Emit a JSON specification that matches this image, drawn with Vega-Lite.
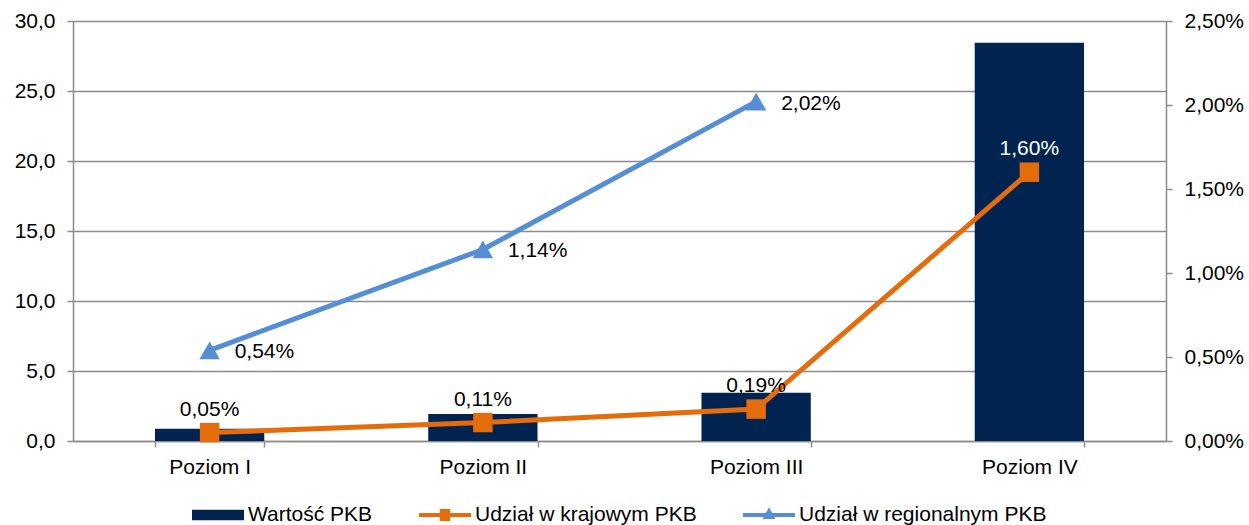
{
  "$schema": "https://vega.github.io/schema/vega-lite/v6.json",
  "width": 1093,
  "height": 420,
  "autosize": {"type": "none"},
  "padding": {"left": 73, "top": 21, "right": 83, "bottom": 84},
  "background": "white",
  "config": {
    "view": {"stroke": null},
    "locale": {"number": {"decimal": ",", "thousands": "\u00a0", "grouping": [3], "currency": ["", " zł"]}},
    "font": "Liberation Sans",
    "axis": {
      "labelFont": "Liberation Sans",
      "labelFontSize": 21,
      "labelColor": "#000000",
      "domainColor": "#8c8c8c",
      "domainWidth": 1.5,
      "tickColor": "#8c8c8c",
      "tickWidth": 1.5,
      "tickSize": 6,
      "gridColor": "#8c8c8c",
      "gridWidth": 1.5,
      "title": null
    },
    "legend": {
      "layout": {"bottom": {"anchor": "middle"}}
    },
    "text": {"font": "Liberation Sans", "fontSize": 21}
  },
  "data": {
    "values": [
      {"poziom": "Poziom I", "seria": "Wartość PKB", "wartosc": 0.88},
      {"poziom": "Poziom II", "seria": "Wartość PKB", "wartosc": 1.93},
      {"poziom": "Poziom III", "seria": "Wartość PKB", "wartosc": 3.45},
      {"poziom": "Poziom IV", "seria": "Wartość PKB", "wartosc": 28.45},
      {"poziom": "Poziom I", "seria": "Udział w krajowym PKB", "wartosc": 0.0005},
      {"poziom": "Poziom II", "seria": "Udział w krajowym PKB", "wartosc": 0.0011},
      {"poziom": "Poziom III", "seria": "Udział w krajowym PKB", "wartosc": 0.0019},
      {"poziom": "Poziom IV", "seria": "Udział w krajowym PKB", "wartosc": 0.016},
      {"poziom": "Poziom I", "seria": "Udział w regionalnym PKB", "wartosc": 0.0054},
      {"poziom": "Poziom II", "seria": "Udział w regionalnym PKB", "wartosc": 0.0114},
      {"poziom": "Poziom III", "seria": "Udział w regionalnym PKB", "wartosc": 0.0202}
    ]
  },
  "encoding": {
    "x": {
      "field": "poziom",
      "type": "nominal",
      "sort": ["Poziom I", "Poziom II", "Poziom III", "Poziom IV"],
      "scale": {"paddingInner": 0.6, "paddingOuter": 0.3},
      "axis": {"labelAngle": 0, "tickBand": "extent", "grid": false, "labelPadding": 9}
    }
  },
  "layer": [
    {
      "transform": [{"filter": {"field": "seria", "equal": "Wartość PKB"}}],
      "mark": {"type": "bar", "color": "#00244F"},
      "encoding": {
        "y": {
          "field": "wartosc",
          "type": "quantitative",
          "scale": {"domain": [0, 30], "nice": false},
          "axis": {"orient": "left", "values": [0, 5, 10, 15, 20, 25, 30], "format": ".1f", "grid": true, "labelPadding": 12}
        }
      }
    },
    {
      "encoding": {
        "y": {
          "field": "wartosc",
          "type": "quantitative",
          "scale": {"domain": [0, 0.025], "nice": false},
          "axis": {"orient": "right", "values": [0, 0.005, 0.01, 0.015, 0.02, 0.025], "format": ".2%", "grid": false, "labelPadding": 12}
        }
      },
      "layer": [
        {
          "transform": [{"filter": {"field": "seria", "equal": "Udział w krajowym PKB"}}],
          "mark": {"type": "line", "color": "#E46C0A", "strokeWidth": 5, "point": {"shape": "square", "filled": true, "size": 380, "color": "#E46C0A", "opacity": 1}}
        },
        {
          "transform": [{"filter": {"field": "seria", "equal": "Udział w regionalnym PKB"}}],
          "mark": {"type": "line", "color": "#558ED5", "strokeWidth": 5, "point": {"shape": "triangle-up", "filled": true, "size": 420, "color": "#558ED5", "opacity": 1}}
        },
        {
          "transform": [{"filter": {"field": "seria", "equal": "Udział w krajowym PKB"}}],
          "mark": {"type": "text", "align": "center", "baseline": "middle", "dy": -23},
          "encoding": {
            "text": {"field": "wartosc", "type": "quantitative", "format": ".2%"},
            "color": {"condition": {"test": "datum.wartosc > 0.01", "value": "#ffffff"}, "value": "#000000"}
          }
        },
        {
          "transform": [{"filter": {"field": "seria", "equal": "Udział w regionalnym PKB"}}],
          "mark": {"type": "text", "align": "left", "baseline": "middle", "dx": 25, "dy": 2, "color": "#000000"},
          "encoding": {
            "text": {"field": "wartosc", "type": "quantitative", "format": ".2%"}
          }
        }
      ]
    },
    {
      "transform": [{"filter": "false"}],
      "mark": {"type": "point", "filled": true, "opacity": 1},
      "encoding": {
        "color": {
          "field": "seria",
          "type": "nominal",
          "scale": {"domain": ["Wartość PKB", "Udział w krajowym PKB", "Udział w regionalnym PKB"], "range": ["#00244F", "#E46C0A", "#558ED5"]},
          "legend": {"orient": "bottom", "direction": "horizontal", "title": null, "symbolSize": 2704, "labelFontSize": 21, "labelFont": "Liberation Sans", "labelColor": "#000000", "columnPadding": 46, "labelOffset": 4, "symbolStrokeWidth": 0, "offset": 12, "labelLimit": 500, "symbolOpacity": 1}
        },
        "shape": {
          "field": "seria",
          "type": "nominal",
          "scale": {"domain": ["Wartość PKB", "Udział w krajowym PKB", "Udział w regionalnym PKB"], "range": ["M-1,-0.2H1V0.2H-1Z", "M-1,-0.08H1V0.08H-1ZM-0.2,-0.23H0.2V0.23H-0.2Z", "M-1,-0.08H1V0.08H-1ZM0,-0.3L0.25,0.15H-0.25Z"]},
          "legend": {"orient": "bottom", "direction": "horizontal", "title": null, "symbolSize": 2704, "labelFontSize": 21, "labelFont": "Liberation Sans", "labelColor": "#000000", "columnPadding": 46, "labelOffset": 4, "symbolStrokeWidth": 0, "offset": 12, "labelLimit": 500, "symbolOpacity": 1}
        }
      }
    }
  ],
  "resolve": {"scale": {"y": "independent"}}
}
